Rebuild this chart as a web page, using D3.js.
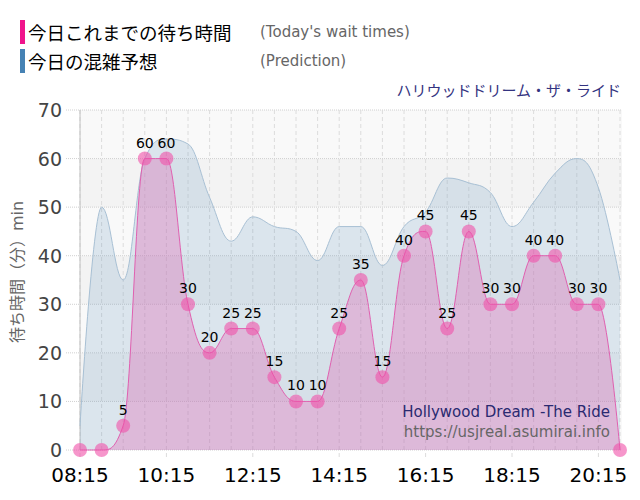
<!DOCTYPE html>
<html>
<head>
<meta charset="utf-8">
<script src="https://cdn.jsdelivr.net/npm/d3@7"></script>
<style>
  body { margin: 0; background: #fff; }
  svg { font-family: "DejaVu Sans", "Noto Sans CJK JP", sans-serif; }
</style>
</head>
<body>
<svg id="chart" width="640" height="500"></svg>
<script>
// categories: one point every 30 minutes
const times = ['08:15', '08:45', '09:15', '09:45', '10:15', '10:45', '11:15', '11:45',
  '12:15', '12:45', '13:15', '13:45', '14:15', '14:45', '15:15', '15:45',
  '16:15', '16:45', '17:15', '17:45', '18:15', '18:45', '19:15', '19:45',
  '20:15', '20:45']
const tickLabels = ['08:15', '10:15', '12:15', '14:15', '16:15', '18:15', '20:15']
const yTicks = [0, 10, 20, 30, 40, 50, 60, 70]

// today's wait times (min)
const waitTimes = [0, 0, 5, 60, 60, 30, 20, 25, 25, 15, 10, 10, 25, 35, 15, 40,
  45, 25, 45, 30, 30, 40, 40, 30, 30, 0]
// prediction (min)
const prediction = [5, 50, 35, 60, 64, 63, 52, 43, 48, 46, 45, 39, 46, 46, 38, 46,
  49, 56, 55, 53, 46, 51, 57, 60, 54, 35]

const pink = '#f0148c'
const blue = '#4682b4'

const svg = d3.select('#chart')

const plotLeft = 80, plotRight = 620, plotTop = 110, plotBottom = 450

const x = d3.scalePoint().domain(times).range([plotLeft, plotRight])
const y = d3.scaleLinear().domain([0, 70]).range([plotBottom, plotTop])

// spline: control points pulled 1/2.5 of the way towards the neighbours,
// shifted so the tangent passes through the point, and kept from overshooting
function splinePath(pts) {
  const sm = 1.5, den = sm + 1
  const cps = pts.map((p, i) => {
    const prev = pts[i - 1], next = pts[i + 1]
    if (!prev || !next) return { lx: p[0], ly: p[1], rx: p[0], ry: p[1] }
    const lx = (sm * p[0] + prev[0]) / den
    let ly = (sm * p[1] + prev[1]) / den
    const rx = (sm * p[0] + next[0]) / den
    let ry = (sm * p[1] + next[1]) / den
    const corr = ((ry - ly) * (rx - p[0])) / (rx - lx) + p[1] - ry
    ly += corr
    ry += corr
    if (ly > prev[1] && ly > p[1]) { ly = Math.max(prev[1], p[1]); ry = 2 * p[1] - ly }
    else if (ly < prev[1] && ly < p[1]) { ly = Math.min(prev[1], p[1]); ry = 2 * p[1] - ly }
    if (ry > next[1] && ry > p[1]) { ry = Math.max(next[1], p[1]); ly = 2 * p[1] - ry }
    else if (ry < next[1] && ry < p[1]) { ry = Math.min(next[1], p[1]); ly = 2 * p[1] - ry }
    return { lx, ly, rx, ry }
  })
  let d = `M${pts[0][0]},${pts[0][1]}`
  for (let i = 1; i < pts.length; i++) {
    d += `C${cps[i - 1].rx},${cps[i - 1].ry},${cps[i].lx},${cps[i].ly},${pts[i][0]},${pts[i][1]}`
  }
  return d
}

const toPts = values => values.map((v, i) => [x(times[i]), y(v)])
const linePath = values => splinePath(toPts(values))
const areaPath = values => {
  const pts = toPts(values)
  return splinePath(pts) + `L${pts[pts.length - 1][0]},${y(0)}L${pts[0][0]},${y(0)}Z`
}

// alternating bands
const bands = svg.append('g')
yTicks.slice(0, -1).forEach((v, i) => {
  bands.append('rect')
    .attr('x', plotLeft).attr('width', plotRight - plotLeft + 2)
    .attr('y', y(v + 10)).attr('height', y(v) - y(v + 10))
    .attr('fill', i % 2 ? '#f3f3f3' : '#f9f9f9')
})

// horizontal grid (dotted)
svg.append('g').selectAll('line').data(yTicks).enter().append('line')
  .attr('x1', plotLeft - 14).attr('x2', plotRight + 2)
  .attr('y1', d => y(d)).attr('y2', d => y(d))
  .attr('stroke', '#d0d0d0').attr('stroke-dasharray', '1,1')

// vertical grid (dashed)
svg.append('g').selectAll('line').data(times).enter().append('line')
  .attr('x1', d => x(d)).attr('x2', d => x(d))
  .attr('y1', plotTop).attr('y2', d => tickLabels.includes(d) ? plotBottom + 10 : plotBottom)
  .attr('stroke', '#dcdcdc').attr('stroke-dasharray', '4,3')

// left axis line
svg.append('line')
  .attr('x1', plotLeft).attr('x2', plotLeft).attr('y1', plotTop).attr('y2', plotBottom)
  .attr('stroke', '#c0c0c0')

// prediction
svg.append('path')
  .attr('d', areaPath(prediction)).attr('fill', blue).attr('fill-opacity', 0.17)
svg.append('path')
  .attr('d', linePath(prediction)).attr('fill', 'none').attr('stroke', '#a8c0d4').attr('stroke-width', 1)

// wait times
svg.append('path')
  .attr('d', areaPath(waitTimes)).attr('fill', '#e070b8').attr('fill-opacity', 0.38)
svg.append('path')
  .attr('d', linePath(waitTimes)).attr('fill', 'none').attr('stroke', '#e060b0').attr('stroke-width', 1)

// markers
svg.append('g').selectAll('circle').data(waitTimes).enter().append('circle')
  .attr('cx', (d, i) => x(times[i])).attr('cy', d => y(d)).attr('r', 7)
  .attr('fill', '#f050a8').attr('fill-opacity', 0.6)

// data labels
const labels = svg.append('g')
waitTimes.forEach((d, i) => {
  if (d === 0) return
  labels.append('text')
    .attr('x', x(times[i])).attr('y', y(d) - 11)
    .attr('text-anchor', 'middle').attr('font-size', 14).attr('fill', '#000')
    .text(d)
})

// y axis labels
svg.append('g').selectAll('text').data(yTicks).enter().append('text')
  .attr('x', 62).attr('y', d => y(d) + 7)
  .attr('text-anchor', 'end').attr('font-size', 19).attr('fill', '#444')
  .text(d => d)

// x axis labels
svg.append('g').selectAll('text').data(tickLabels).enter().append('text')
  .attr('x', d => x(d)).attr('y', 482)
  .attr('text-anchor', 'middle').attr('font-size', 20).attr('fill', '#000')
  .text(d => d)

// y axis title
svg.append('text')
  .attr('transform', 'translate(23,272) rotate(-90)')
  .attr('text-anchor', 'middle').attr('font-size', 16).attr('fill', '#666')
  .text('待ち時間（分）min')

// legend
const legend = [
  { color: pink, ja: '今日これまでの待ち時間', en: "(Today's wait times)" },
  { color: blue, ja: '今日の混雑予想', en: '(Prediction)' }
]
legend.forEach((d, i) => {
  const ly = 20 + i * 29
  svg.append('rect').attr('x', 20).attr('y', ly).attr('width', 5).attr('height', 24).attr('fill', d.color)
  svg.append('text').attr('x', 28).attr('y', ly + 20)
    .attr('font-family', '"Noto Sans CJK JP", sans-serif')
    .attr('font-size', 18.5).attr('fill', '#000').text(d.ja)
  svg.append('text').attr('x', 260).attr('y', ly + 17)
    .attr('font-size', 15).attr('fill', '#666').text(d.en)
})

// attraction name
svg.append('text').attr('x', 621).attr('y', 96)
  .attr('text-anchor', 'end').attr('font-size', 15).attr('fill', '#333380')
  .attr('font-family', '"Noto Sans CJK JP", sans-serif')
  .text('ハリウッドドリーム・ザ・ライド')

// watermark
svg.append('text').attr('x', 610).attr('y', 417)
  .attr('text-anchor', 'end').attr('font-size', 15).attr('fill', '#2a2a70')
  .text('Hollywood Dream -The Ride')
svg.append('text').attr('x', 610).attr('y', 437)
  .attr('text-anchor', 'end').attr('font-size', 15).attr('fill', '#666')
  .text('https://usjreal.asumirai.info')
</script>
</body>
</html>
